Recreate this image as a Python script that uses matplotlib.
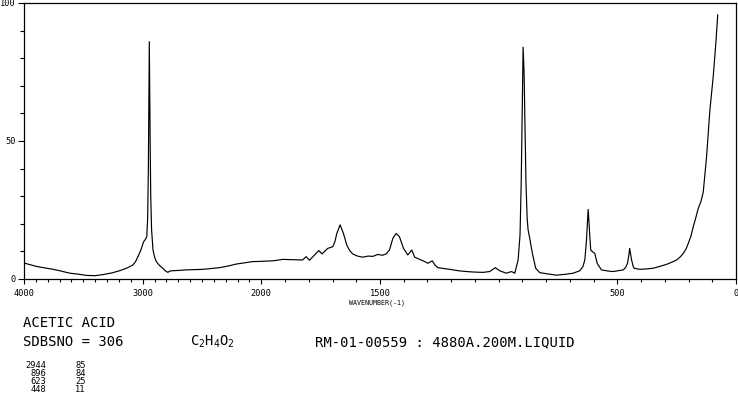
import numpy as np
import matplotlib
matplotlib.use("Agg")
import matplotlib.pyplot as plt

# ---- data ----
wavenumber = [4000, 3950, 3900, 3850, 3754, 3700, 3613, 3550, 3473, 3400, 3334, 3260,
              3193, 3130, 3082, 3060, 3040, 3015, 2992, 2975, 2965, 2958, 2952, 2948,
              2944, 2941, 2937, 2932, 2925, 2913, 2900, 2885, 2860, 2830, 2810, 2788,
              2770, 2745, 2700, 2633, 2560, 2493, 2420, 2353, 2280, 2213, 2150, 2073,
              2000, 1950, 1910, 1860, 1826, 1811, 1797, 1776, 1758, 1744, 1720, 1699,
              1690, 1682, 1668, 1654, 1640, 1627, 1615, 1595, 1573, 1550, 1530, 1509,
              1490, 1474, 1460, 1446, 1432, 1418, 1401, 1390, 1383, 1366, 1354, 1335,
              1319, 1298, 1280, 1268, 1256, 1230, 1207, 1170, 1136, 1100, 1066, 1038,
              1014, 996, 968, 946, 932, 918, 910, 905, 901, 897, 893, 889, 885, 880,
              876, 869, 858, 844, 827, 790, 757, 720, 686, 658, 645, 637, 630, 627,
              623, 619, 615, 612, 605, 595, 585, 567, 540, 518, 495, 475, 465, 457,
              451, 448, 444, 440, 433, 429, 405, 370, 349, 320, 293, 270, 250, 235,
              222, 210, 201, 190, 180, 170, 159, 148, 138, 124, 110, 96, 84, 77]
intensity = [5.8, 5.2, 4.6, 4.2, 3.5, 3.0, 2.1, 1.8, 1.3, 1.2, 1.6, 2.2,
             3.0, 4.0, 5.1, 6.3, 8.1, 10.5, 13.5, 14.5, 15.5, 22, 40, 66,
             86, 70, 50, 30, 18, 10.5, 8.0, 6.3, 5.0, 3.9, 3.0, 2.4,
             2.9, 3.0, 3.1, 3.3, 3.4, 3.5, 3.8, 4.1, 4.7, 5.4, 5.8, 6.3,
             6.4, 6.6, 7.1, 7.0, 6.9, 8.1, 6.8, 8.7, 10.3, 9.1, 11.1, 11.7,
             13.5, 16.5, 19.6, 16.5, 12.3, 10.2, 9.1, 8.3, 7.9, 8.3, 8.2, 8.9,
             8.6, 9.1, 10.5, 14.7, 16.5, 15.3, 11.1, 9.6, 8.7, 10.5, 7.9, 7.2,
             6.6, 5.7, 6.6, 5.0, 4.1, 3.8, 3.5, 3.0, 2.7, 2.5, 2.4, 2.7,
             4.1, 3.0, 2.1, 2.7, 2.1, 6.9, 16, 35, 60, 84, 75, 55, 35, 22,
             17.8, 14.7, 9.3, 3.9, 2.3, 1.8, 1.4, 1.7, 2.1, 3.0, 4.5, 6.9, 14, 19,
             25.2, 20, 14, 10.5, 9.9, 9.3, 5.7, 3.3, 2.9, 2.7, 3.0, 3.3, 4.2, 5.7,
             9, 11.1, 9, 6.9, 4.5, 3.9, 3.5, 3.7, 3.9, 4.6, 5.3, 6.1, 6.9, 8.0,
             9.3, 11, 12.9, 15.5, 19, 22, 25.6, 28.0, 31.5, 44.3, 61.2, 73.3, 86.6, 95.7]

x_major = [4000, 3000, 2000, 1500, 500, 0]
x_major_labels = ["4000", "3000", "2000", "1500", "500", "0"]
y_major = [0, 50, 100]
y_major_labels = ["0", "50", "100"]

compound = "ACETIC ACID"
sdbs_line = "SDBSNO = 306"
formula = r"$\mathtt{C_2H_4O_2}$"
info = "RM-01-00559 : 4880A.200M.LIQUID"
peak_pos = ["2944", "896", "623", "448"]
peak_int = ["85", "84", "25", "11"]
xlabel = "WAVENUMBER(-1)"

MONO = "DejaVu Sans Mono"
plt.rcParams["font.family"] = [MONO]
plt.rcParams["mathtext.fontset"] = "dejavusans"

W, H = 738, 398
fig = plt.figure(figsize=(W / 100, H / 100), dpi=100)
fig.patch.set_facecolor("white")
ax = fig.add_axes([24 / W, 119 / H, 712 / W, 276 / H])


def fwd(x):
    x = np.asarray(x, dtype=float)
    return np.where(x < 2000, 2 * x, x + 2000)


def inv(u):
    u = np.asarray(u, dtype=float)
    return np.where(u < 4000, u / 2, u - 2000)


ax.set_xscale("function", functions=(fwd, inv))
ax.plot(wavenumber, intensity, color="black", lw=0.85)
ax.set_xlim(4000, 0)
ax.set_ylim(0, 100)

ax.set_xticks(x_major)
ax.set_xticklabels(x_major_labels)
ax.set_xticks([v for v in range(0, 4001, 100) if v not in x_major], minor=True)
ax.set_yticks(y_major)
ax.set_yticklabels(y_major_labels)
ax.set_yticks([v for v in range(10, 100, 10) if v not in y_major], minor=True)

ax.tick_params(axis="x", which="major", length=3.5, width=0.8, pad=3.5, labelsize=6.2)
ax.tick_params(axis="x", which="minor", length=2.5, width=0.8)
ax.tick_params(axis="y", which="major", length=4.5, width=0.8, pad=1.5, labelsize=6.2)
ax.tick_params(axis="y", which="minor", length=3, width=0.8)
for s in ax.spines.values():
    s.set_linewidth(0.9)


def ft(x, y, s, **kw):
    fig.text(x / W, 1 - y / H, s, **kw)


ft(377, 302.5, xlabel, ha="center", va="center", fontsize=4.8)
ft(23, 323, compound, ha="left", va="center", fontsize=10)
ft(23, 342, sdbs_line, ha="left", va="center", fontsize=10)
ft(190, 342, formula, ha="left", va="center", fontsize=10)
ft(315, 342, info, ha="left", va="center", fontsize=10)
rows_y = [365.5, 374, 382, 390]
for p, i, y in zip(peak_pos, peak_int, rows_y):
    ft(46, y, p, ha="right", va="center", fontsize=6.3)
    ft(75, y, i, ha="left", va="center", fontsize=6.3)

fig.savefig("out.png", dpi=100)
